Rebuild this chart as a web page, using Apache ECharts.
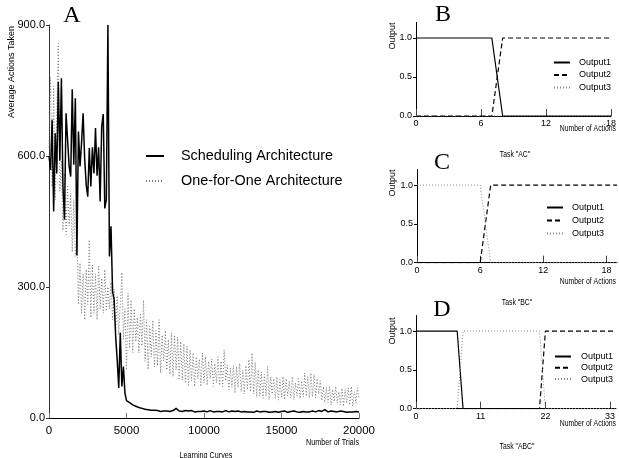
<!DOCTYPE html>
<html><head><meta charset="utf-8">
<script src="https://cdn.jsdelivr.net/npm/echarts@6/dist/echarts.min.js"></script>
<style>html,body{margin:0;padding:0;background:#fff}#c{width:619px;height:458px}</style>
</head><body><div id="c"></div>
<script>
// ---------- Panel A: learning curves ----------
const TRIAL_STEP = 100; // sampling interval of the learning curves (trials)
const schedulingValues = [
  600, 568, 683, 473, 652, 560, 770, 590, 778, 530,
  454, 698, 694, 576, 553, 753, 580, 732, 372, 656,
  576, 630, 698, 595, 534, 507, 618, 530, 620, 560,
  664, 555, 620, 496, 668, 696, 480, 500, 900, 370,
  439, 290, 271, 187, 133, 69, 195, 72, 118, 57,
  40, 42, 35, 38, 30, 33, 27, 29, 24, 26,
  22, 23, 20, 21, 19, 20, 18, 17, 18, 16,
  17, 16, 15, 17, 16, 15, 16, 18, 15, 16,
  17, 19, 22, 18, 16, 17, 15, 16, 17, 15,
  16, 15, 17, 16, 14, 16, 15, 17, 15, 14,
  16, 15, 14, 16, 17, 15, 14, 16, 15, 14,
  15, 16, 14, 15, 17, 15, 14, 15, 16, 14,
  15, 14, 16, 15, 14, 13, 15, 16, 14, 15,
  14, 15, 13, 14, 16, 15, 14, 13, 15, 14,
  15, 14, 13, 15, 14, 16, 15, 14, 13, 14,
  15, 14, 16, 15, 13, 14, 15, 14, 16, 15,
  14, 15, 13, 14, 15, 16, 14, 15, 14, 15,
  16, 15, 14, 15, 17, 16, 15, 14, 19, 15,
  14, 15, 16, 14, 15, 13, 14, 15, 16, 14,
  15, 14, 13, 15, 14, 15, 14, 13, 15, 14,
  14
];
const oneForOneValues = [
  620, 780, 530, 760, 500, 700, 858, 520, 590, 430,
  560, 420, 530, 440, 515, 380, 500, 370, 423, 260,
  355, 240, 330, 225, 340, 260, 408, 230, 350, 240,
  330, 225, 347, 250, 320, 240, 340, 245, 300, 250,
  310, 225, 295, 200, 280, 190, 260, 333, 180, 250,
  110, 286, 160, 270, 150, 250, 175, 230, 149, 240,
  165, 270, 130, 225, 111, 210, 140, 224, 117, 200,
  120, 225, 103, 190, 130, 200, 110, 180, 100, 195,
  95, 190, 110, 185, 90, 175, 87, 170, 80, 165,
  75, 156, 85, 149, 72, 140, 90, 135, 72, 149,
  80, 141, 75, 130, 90, 135, 72, 125, 80, 140,
  75, 130, 72, 156, 85, 121, 65, 115, 70, 120,
  57, 118, 70, 125, 60, 110, 55, 120, 65, 134,
  60, 149, 55, 128, 48, 110, 50, 105, 45, 100,
  50, 118, 42, 94, 55, 90, 45, 94, 41, 88,
  48, 95, 42, 90, 50, 85, 45, 95, 42, 80,
  50, 90, 45, 85, 48, 103, 50, 95, 46, 103,
  48, 100, 46, 90, 55, 85, 40, 72, 35, 70,
  35, 71, 30, 65, 38, 72, 34, 60, 30, 68,
  27, 65, 34, 69, 30, 72, 27, 60, 34, 69,
  45
];
const yTicksA = [0, 300, 600, 900];
const xTicksA = [0, 5000, 10000, 15000, 20000];

// ---------- Panel B: Task "AC" ----------
const acActions1 = [0, 7, 8, 18], acOutput1 = [1, 1, 0, 0];
const acActions2 = [0, 7, 8, 18], acOutput2 = [0, 0, 1, 1];
const acActions3 = [0, 18],       acOutput3 = [0, 0];
const acTicks = [0, 6, 12, 18];
// ---------- Panel C: Task "BC" ----------
const bcActions1 = [0, 19],       bcOutput1 = [0, 0];
const bcActions2 = [0, 6, 7, 19], bcOutput2 = [0, 0, 1, 1];
const bcActions3 = [0, 6, 7, 19], bcOutput3 = [1, 1, 0, 0];
const bcTicks = [0, 6, 12, 18];
// ---------- Panel D: Task "ABC" ----------
const abcActions1 = [0, 7, 8, 34],            abcOutput1 = [1, 1, 0, 0];
const abcActions2 = [0, 21, 22, 34],          abcOutput2 = [0, 0, 1, 1];
const abcActions3 = [0, 7, 8, 21, 22, 34],    abcOutput3 = [0, 0, 1, 1, 0, 0];
const abcTicks = [0, 11, 22, 33];
const outputTicks = [0, 0.5, 1.0];

const SANS = "'Liberation Sans', Arial, sans-serif";
const SERIF = "'Liberation Serif', 'Times New Roman', serif";

const pairs = (xs, ys) => xs.map((x, i) => [x, ys[i]]);
const trialPairs = vals => vals.map((v, i) => [i * TRIAL_STEP, v]);

function smallX(idx, max, interval, ticks) {
  return {
    gridIndex: idx, type: 'value', min: 0, max: max, interval: interval,
    axisLine: {show: true, onZero: false, lineStyle: {color: '#000', width: 1}},
    axisTick: {show: true, inside: true, length: 7, customValues: ticks, lineStyle: {color: '#444'}},
    axisLabel: {customValues: ticks, fontSize: 9, fontFamily: SANS, color: '#000', margin: 3,
      formatter: v => ticks.indexOf(v) >= 0 ? String(v) : ''},
    splitLine: {show: false}
  };
}
function smallY(idx) {
  return {
    gridIndex: idx, type: 'value', min: 0, max: 1.2, interval: 0.5,
    axisLine: {show: true, lineStyle: {color: '#000', width: 1}},
    axisTick: {show: true, inside: false, length: 3, customValues: outputTicks, lineStyle: {color: '#000'}},
    axisLabel: {customValues: outputTicks, fontSize: 9, fontFamily: SANS, color: '#000', margin: 4,
      formatter: v => outputTicks.indexOf(v) >= 0 ? v.toFixed(1) : ''},
    splitLine: {show: false}
  };
}
const S1 = {color: '#000', width: 1.2, type: 'solid'};
const S2 = {color: '#000', width: 1.2, type: [5, 3]};
const S3 = {color: '#888', width: 1, type: [1, 2]};
function outSeries(name, idx, data, ls) {
  return {name: name, type: 'line', xAxisIndex: idx, yAxisIndex: idx, data: data,
    symbol: 'none', lineStyle: ls, itemStyle: {color: ls.color}, z: 3, silent: true};
}
function smallLegend(left, top, gap, pad) {
  return {
    orient: 'vertical', left: left, top: top, itemWidth: 16, itemHeight: 10, itemGap: gap,
    padding: 0, data: ['Output1', 'Output2', 'Output3'], selectedMode: false,
    itemStyle: {opacity: 0},
    textStyle: {fontSize: 9, fontFamily: SANS, color: '#000', padding: [0, 0, 0, pad]}
  };
}
function txt(x, y, s, font, opts) {
  opts = opts || {};
  const el = {type: 'text', x: x, y: y, silent: true,
    style: Object.assign({text: s, font: font, fill: '#000', align: 'center', verticalAlign: 'middle'}, opts.style || {})};
  if (opts.rotation !== undefined) el.rotation = opts.rotation;
  if (opts.scaleX !== undefined) el.scaleX = opts.scaleX;
  return el;
}
const NARROW_SCALE = 0.76;

const chart = echarts.init(document.getElementById('c'), null, {renderer: 'canvas'});
chart.setOption({
  animation: false,
  backgroundColor: '#fff',
  grid: [
    {left: 49, top: 25, width: 310, height: 393},
    {left: 416, top: 22.4, width: 200, height: 93.6},
    {left: 417, top: 169.5, width: 200, height: 93.2},
    {left: 416, top: 315.5, width: 200, height: 93.2}
  ],
  xAxis: [
    {gridIndex: 0, type: 'value', min: 0, max: 20000, interval: 5000,
      axisLine: {show: true, onZero: false, lineStyle: {color: '#000', width: 1}},
      axisTick: {show: true, inside: true, length: 5, lineStyle: {color: '#777'}},
      axisLabel: {fontSize: 11.5, fontFamily: SANS, color: '#000', margin: 7, formatter: v => String(v)},
      splitLine: {show: false}},
    smallX(1, 18, 6, acTicks),
    smallX(2, 19, 6, bcTicks),
    smallX(3, 34, 11, abcTicks)
  ],
  yAxis: [
    {gridIndex: 0, type: 'value', min: 0, max: 900, interval: 300,
      axisLine: {show: true, lineStyle: {color: '#333', width: 1}},
      axisTick: {show: true, inside: false, length: 3, lineStyle: {color: '#333'}},
      axisLabel: {fontSize: 11, fontFamily: SANS, color: '#000', margin: 4, formatter: v => v.toFixed(1)},
      splitLine: {show: false}},
    smallY(1), smallY(2), smallY(3)
  ],
  legend: [
    {orient: 'vertical', left: 145, top: 149, itemWidth: 18, itemHeight: 14, itemGap: 11, padding: 0,
      selectedMode: false, data: ['Scheduling Architecture', 'One-for-One Architecture'],
      itemStyle: {opacity: 0},
      textStyle: {fontSize: 14.4, fontFamily: SANS, color: '#000', padding: [0, 0, 0, 12]}},
    smallLegend(553, 58, 3.5, 4),
    smallLegend(546, 203, 4, 4),
    smallLegend(554, 352, 2.3, 5)
  ],
  series: [
    {name: 'One-for-One Architecture', type: 'line', xAxisIndex: 0, yAxisIndex: 0,
      data: trialPairs(oneForOneValues), symbol: 'none', silent: true, z: 2,
      lineStyle: {color: '#777', width: 1, type: [1, 2]}, itemStyle: {color: '#777'}},
    {name: 'Scheduling Architecture', type: 'line', xAxisIndex: 0, yAxisIndex: 0,
      data: trialPairs(schedulingValues), symbol: 'none', silent: true, z: 3,
      lineStyle: {color: '#000', width: 1.5}, itemStyle: {color: '#000'}},
    outSeries('Output1', 1, pairs(acActions1, acOutput1), S1),
    outSeries('Output2', 1, pairs(acActions2, acOutput2), S2),
    outSeries('Output3', 1, pairs(acActions3, acOutput3), S3),
    outSeries('Output1', 2, pairs(bcActions1, bcOutput1), S1),
    outSeries('Output2', 2, pairs(bcActions2, bcOutput2), S2),
    outSeries('Output3', 2, pairs(bcActions3, bcOutput3), S3),
    outSeries('Output1', 3, pairs(abcActions1, abcOutput1), S1),
    outSeries('Output2', 3, pairs(abcActions2, abcOutput2), S2),
    outSeries('Output3', 3, pairs(abcActions3, abcOutput3), S3)
  ],
  graphic: [
    txt(72, 16, 'A', '24px ' + SERIF),
    txt(12, 72, 'Average Actions Taken', '9px ' + SANS, {rotation: Math.PI / 2}),
    txt(359, 443, 'Number of Trials', '9px ' + SANS, {style: {align: 'right'}, scaleX: 0.8}),
    txt(206, 456, 'Learning Curves', '9px ' + SANS, {scaleX: 0.8}),
    txt(443, 15, 'B', '24px ' + SERIF),
    txt(442, 163, 'C', '24px ' + SERIF),
    txt(442, 310, 'D', '24px ' + SERIF),
    txt(393, 36, 'Output', '9px ' + SANS, {rotation: Math.PI / 2}),
    txt(393, 183, 'Output', '9px ' + SANS, {rotation: Math.PI / 2}),
    txt(393, 331, 'Output', '9px ' + SANS, {rotation: Math.PI / 2}),
    txt(616, 129, 'Number of Actions', '9px ' + SANS, {style: {align: 'right'}, scaleX: NARROW_SCALE}),
    txt(616, 282, 'Number of Actions', '9px ' + SANS, {style: {align: 'right'}, scaleX: NARROW_SCALE}),
    txt(616, 424, 'Number of Actions', '9px ' + SANS, {style: {align: 'right'}, scaleX: NARROW_SCALE}),
    txt(515, 155, 'Task "AC"', '9px ' + SANS, {scaleX: NARROW_SCALE}),
    txt(517, 303, 'Task "BC"', '9px ' + SANS, {scaleX: NARROW_SCALE}),
    txt(517, 447, 'Task "ABC"', '9px ' + SANS, {scaleX: NARROW_SCALE})
  ]
});
</script></body></html>
